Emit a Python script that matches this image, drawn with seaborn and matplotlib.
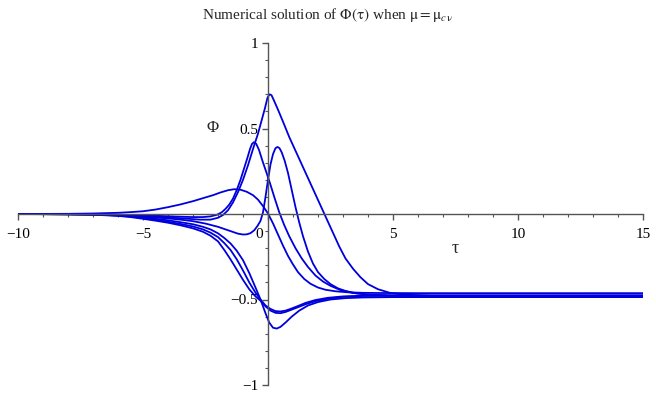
import numpy as np
import pandas as pd
import matplotlib
matplotlib.use("Agg")
import matplotlib.pyplot as plt
import matplotlib.transforms as mtransforms
from matplotlib.ticker import MultipleLocator
import seaborn as sns

tau_A = [-10, -8, -7, -6.5, -6, -5.5, -5, -4.5, -4, -3.5, -3, -2.5, -2.2, -1.9, -1.6, -1.35,
         -1.1, -0.85, -0.6, -0.4, -0.2, 0, 0.2, 0.4, 0.6, 0.8, 1.0, 1.2, 1.45, 1.7, 2.0, 2.3,
         2.7, 3.2, 3.8, 4.5, 6, 15]
phi_A = [0, 0.001, 0.003, 0.005, 0.007, 0.011, 0.016, 0.026, 0.04, 0.056, 0.075, 0.097, 0.11,
         0.126, 0.139, 0.145, 0.142, 0.13, 0.11, 0.084, 0.046, 0.003, -0.055, -0.12, -0.185,
         -0.245, -0.295, -0.34, -0.38, -0.408, -0.43, -0.443, -0.452, -0.458, -0.461, -0.462,
         -0.463, -0.463]

tau_B = [-10, -7, -6, -5, -4, -3.5, -3, -2.6, -2.3, -2.05, -1.85, -1.7, -1.55, -1.4, -1.25,
         -1.1, -0.95, -0.82, -0.72, -0.64, -0.56, -0.47, -0.36, -0.22, -0.08, 0.08, 0.25,
         0.45, 0.65, 0.85, 1.1, 1.35, 1.6, 1.9, 2.2, 2.5, 2.9, 3.4, 4.0, 5, 6.5, 15]
phi_B = [0, -0.002, -0.004, -0.008, -0.013, -0.016, -0.018, -0.018, -0.014, -0.005, 0.01,
         0.03, 0.055, 0.09, 0.14, 0.2, 0.27, 0.33, 0.38, 0.41, 0.42, 0.41, 0.375, 0.31, 0.25,
         0.18, 0.1, 0.01, -0.065, -0.13, -0.2, -0.26, -0.31, -0.36, -0.395, -0.42, -0.445,
         -0.462, -0.471, -0.477, -0.478, -0.478]

tau_C = [-10, -7, -6, -5, -4, -3.3, -2.7, -2.3, -2.0, -1.8, -1.6, -1.4, -1.2, -1.0, -0.8,
         -0.6, -0.4, -0.25, -0.12, -0.02, 0.06, 0.14, 0.25, 0.4, 0.6, 0.85, 1.1, 1.35, 1.6,
         1.85, 2.1, 2.35, 2.6, 2.85, 3.1, 3.4, 3.7, 4.0, 4.4, 4.9, 5.5, 6.5, 15]
phi_C = [0, -0.003, -0.006, -0.012, -0.02, -0.027, -0.033, -0.033, -0.022, -0.006, 0.022,
         0.068, 0.128, 0.2, 0.285, 0.38, 0.47, 0.55, 0.62, 0.68, 0.7, 0.695, 0.66, 0.61,
         0.54, 0.45, 0.37, 0.29, 0.21, 0.13, 0.05, -0.03, -0.11, -0.19, -0.26, -0.32, -0.37,
         -0.41, -0.44, -0.462, -0.472, -0.478, -0.48]

tau_D = [-10, -7, -6, -5, -4, -3.5, -3, -2.5, -2, -1.7, -1.4, -1.2, -1.0, -0.85, -0.7,
         -0.55, -0.42, -0.3, -0.2, -0.1, 0.0, 0.1, 0.2, 0.3, 0.38, 0.46, 0.55, 0.67, 0.8,
         0.95, 1.1, 1.25, 1.4, 1.6, 1.8, 2.0, 2.25, 2.5, 2.8, 3.1, 3.5, 4.0, 4.7, 6, 15]
phi_D = [0, -0.002, -0.006, -0.015, -0.026, -0.033, -0.042, -0.056, -0.075, -0.09, -0.105,
         -0.115, -0.12, -0.119, -0.112, -0.095, -0.07, -0.04, 0.01, 0.1, 0.2, 0.29, 0.35,
         0.385, 0.392, 0.385, 0.36, 0.31, 0.24, 0.14, 0.04, -0.05, -0.13, -0.22, -0.29,
         -0.34, -0.38, -0.41, -0.435, -0.45, -0.463, -0.472, -0.477, -0.48, -0.48]

tau_E = [-10, -8, -7, -6, -5.5, -5, -4.5, -4, -3.5, -3, -2.6, -2.3, -2.0, -1.75, -1.5,
         -1.25, -1.0, -0.75, -0.5, -0.3, -0.1, 0.1, 0.3, 0.5, 0.7, 0.9, 1.2, 1.5, 1.9, 2.4,
         3, 3.8, 5, 15]
phi_E = [0, -0.001, -0.004, -0.011, -0.018, -0.028, -0.039, -0.051, -0.066, -0.084, -0.104,
         -0.127, -0.16, -0.21, -0.265, -0.325, -0.385, -0.44, -0.482, -0.507, -0.54, -0.565,
         -0.578, -0.58, -0.573, -0.562, -0.545, -0.528, -0.51, -0.495, -0.485, -0.479,
         -0.477, -0.476]

tau_F = tau_E
phi_F = [0, -0.001, -0.003, -0.009, -0.015, -0.024, -0.034, -0.045, -0.058, -0.073, -0.09,
         -0.109, -0.135, -0.17, -0.21, -0.265, -0.33, -0.4, -0.46, -0.5, -0.535, -0.555,
         -0.568, -0.57, -0.565, -0.555, -0.538, -0.52, -0.503, -0.49, -0.482, -0.478,
         -0.477, -0.477]

tau_G = [-10, -8, -7, -6, -5.5, -5, -4.5, -4, -3.5, -3, -2.6, -2.3, -2.0, -1.75, -1.5,
         -1.25, -1.0, -0.75, -0.5, -0.3, -0.1, 0.05, 0.2, 0.35, 0.5, 0.7, 0.95, 1.25, 1.6,
         2.0, 2.5, 3.1, 3.8, 5, 15]
phi_G = [0, -0.001, -0.003, -0.008, -0.013, -0.02, -0.028, -0.037, -0.048, -0.06, -0.075,
         -0.09, -0.113, -0.14, -0.172, -0.215, -0.27, -0.345, -0.43, -0.5, -0.58, -0.635,
         -0.665, -0.67, -0.66, -0.635, -0.6, -0.565, -0.535, -0.515, -0.5, -0.492, -0.488,
         -0.486, -0.486]

x_ticks = [-10, -5, 0, 5, 10, 15]
x_tick_labels = ["\u221210", "\u22125", "0", "5", "10", "15"]
y_ticks = [-1, -0.5, 0.5, 1]
y_tick_labels = ["\u22121", "\u22120.5", "0.5", "1"]

curves = {"A": (tau_A, phi_A), "B": (tau_B, phi_B), "C": (tau_C, phi_C),
          "D": (tau_D, phi_D), "E": (tau_E, phi_E), "F": (tau_F, phi_F),
          "G": (tau_G, phi_G)}
df = pd.concat([pd.DataFrame({"tau": t, "phi": p, "curve": k})
                for k, (t, p) in curves.items()], ignore_index=True)

sns.set_theme(style="white")
plt.rcParams["font.family"] = ["Liberation Serif", "DejaVu Serif"]
plt.rcParams["mathtext.fontset"] = "stix"
plt.rcParams["axes.unicode_minus"] = True

fig = plt.figure(figsize=(6.56, 4.0), dpi=100)
ax = fig.add_axes([18 / 656, 15 / 400, 625 / 656, 342 / 400])

line_color = "#0000dd"
sns.lineplot(data=df, x="tau", y="phi", units="curve", estimator=None, sort=False,
             color=line_color, linewidth=1.3, ax=ax, legend=False)

ax.set_xlim(-10, 15)
ax.set_ylim(-1, 1)
ax.set_xlabel("")
ax.set_ylabel("")

axis_color = "#555555"
for side in ("top", "right"):
    ax.spines[side].set_visible(False)
ax.spines["left"].set_position(("data", 0))
ax.spines["bottom"].set_position(("data", 0))
for side in ("left", "bottom"):
    ax.spines[side].set_color(axis_color)
    ax.spines[side].set_linewidth(1.0)

ax.set_xticks(x_ticks)
ax.set_xticklabels(x_tick_labels)
ax.set_yticks(y_ticks)
ax.set_yticklabels(y_tick_labels)
ax.xaxis.set_minor_locator(MultipleLocator(1))
ax.yaxis.set_minor_locator(MultipleLocator(0.1))
ax.tick_params(axis="both", which="major", length=4, width=1.0, color=axis_color,
               labelsize=11, labelcolor="black", direction="out")
ax.tick_params(axis="x", which="major", pad=6)
ax.tick_params(axis="y", which="major", pad=3)
ax.tick_params(axis="both", which="minor", length=2, width=0.8, color=axis_color,
               direction="out")
ax.tick_params(bottom=True, left=True, which="both")

# shift the "0" label slightly left of the vertical axis
for lab in ax.get_xticklabels():
    if lab.get_text() == "0":
        lab.set_transform(lab.get_transform() +
                          mtransforms.ScaledTranslation(-6 / 72, 0, fig.dpi_scale_trans))

ax.text(-2.2, 0.5, "\u03a6", fontsize=12, ha="center", va="center")
ax.text(7.5, -0.2, "\u03c4", fontsize=13, ha="center", va="center")

fig.text(0.5, 0.962,
         r"Numerical solution of $\Phi\left(\mathrm{\tau}\right)$ when "
         r"$\mathrm{\mu} = \mathrm{\mu}_{c\,\mathrm{\nu}}$",
         ha="center", va="center", fontsize=11)

fig.savefig("out.png", dpi=100, facecolor="white")
